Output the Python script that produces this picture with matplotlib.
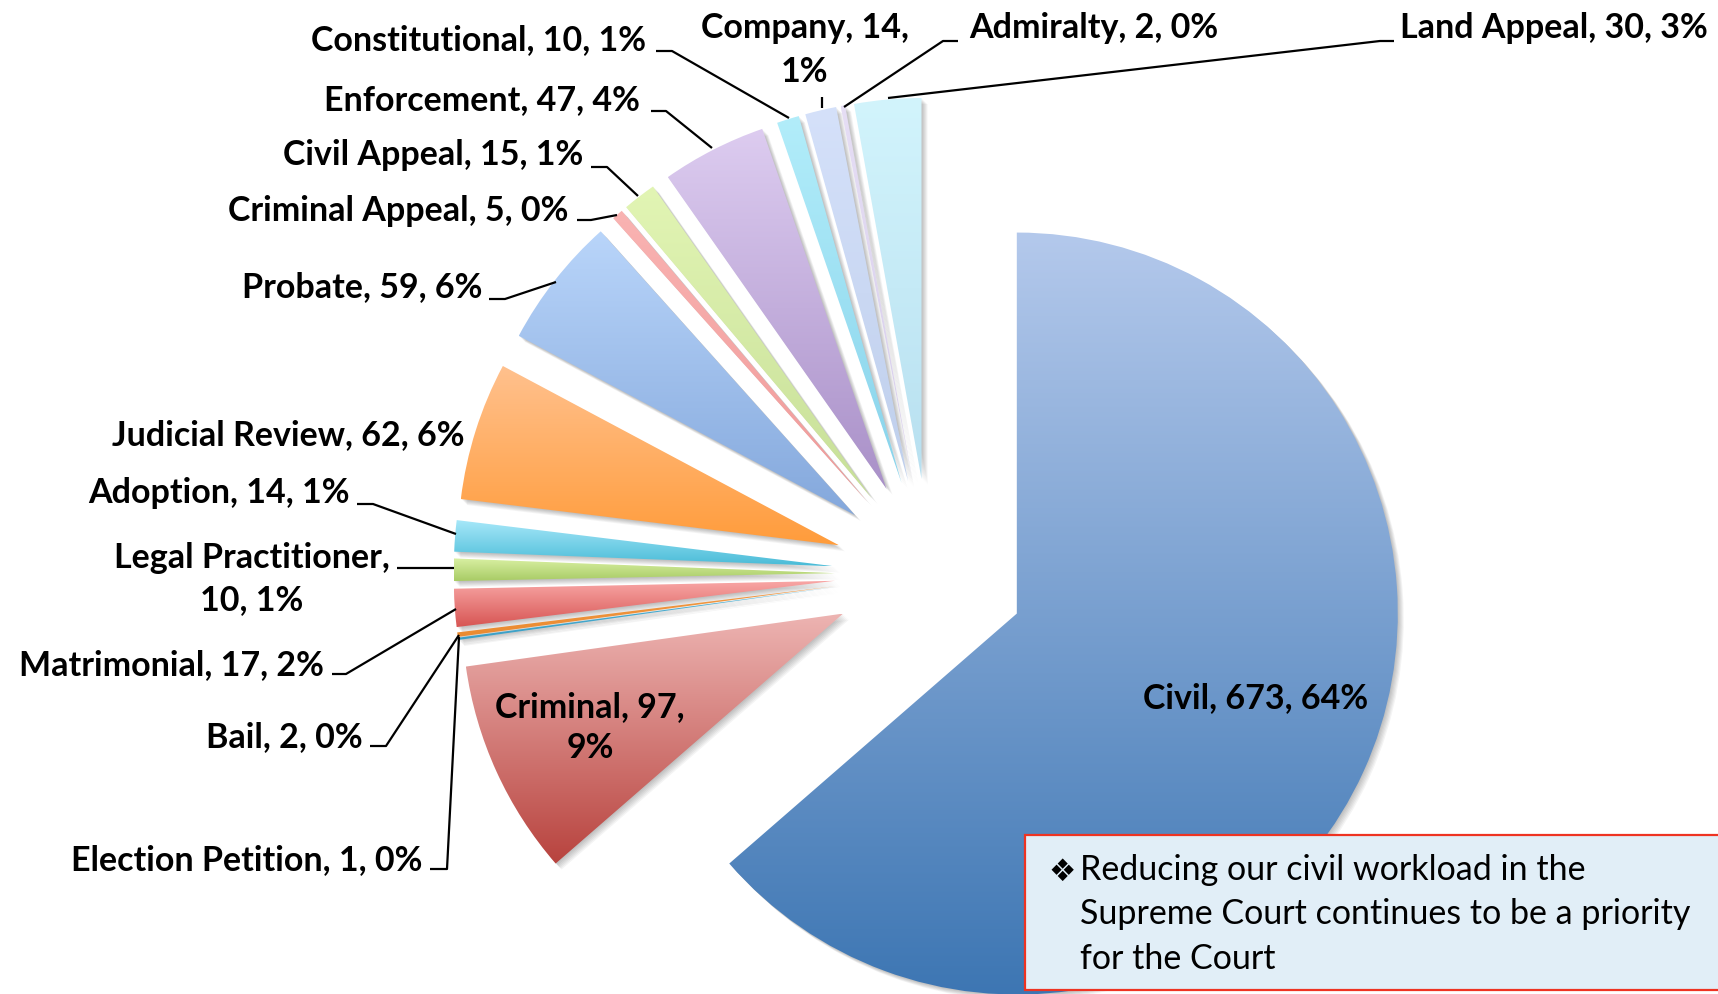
"""
Supreme Court civil workload - exploded pie with Excel-like gradient slices
"""

import numpy as np
import matplotlib
matplotlib.use('Agg')
import matplotlib.pyplot as plt
import matplotlib.colors as mcolors
from matplotlib.patches import Wedge, Rectangle

W, H = 1718, 994

# ---- data (clockwise from 12 o'clock) ----
categories = ['Civil', 'Criminal', 'Election Petition', 'Bail', 'Matrimonial',
              'Legal Practitioner', 'Adoption', 'Judicial Review', 'Probate',
              'Criminal Appeal', 'Civil Appeal', 'Enforcement', 'Constitutional',
              'Company', 'Admiralty', 'Land Appeal']
cases = [673, 97, 1, 2, 17, 10, 14, 62, 59, 5, 15, 47, 10, 14, 2, 30]

top_colors = ['#b4c9ec', '#edb4b2', '#52b4d6', '#f39a44', '#f9a8a7', '#d9f0a3',
              '#a9e9fa', '#ffc18e', '#b9d5fa', '#f9b3b2', '#e2f5b4', '#ddccf0',
              '#b2edfa', '#d5e1fa', '#e6def5', '#d2f4fc']
bottom_colors = ['#3d76b3', '#b8433e', '#3a9fc6', '#ea8a30', '#d75553', '#a8cb65',
                 '#49bbd7', '#ff9c3b', '#84a8dc', '#f09a99', '#c7df98', '#a990c8',
                 '#88d3eb', '#bfcfec', '#d6cdea', '#b8e0f0']

note_text = ["Reducing our civil workload in the",
             "Supreme Court continues to be a priority",
             "for the Court"]

# ---- layout (image pixel coords, y down) ----
pie_center = (930, 574)
pie_radius = 381
explode_dist = 95.4

# name: (x, baseline y, ha, parts on first line, line step)
label_pos = {
    'Civil': (1256, 708, 'center', 3, 0),
    'Criminal': (590, 717, 'center', 2, 41),
    'Election Petition': (422, 870, 'right', 3, 0),
    'Bail': (363, 747, 'right', 3, 0),
    'Matrimonial': (324, 675, 'right', 3, 0),
    'Legal Practitioner': (252, 568, 'center', 1, 42),
    'Adoption': (350, 503, 'right', 3, 0),
    'Judicial Review': (464, 445, 'right', 3, 0),
    'Probate': (482, 297, 'right', 3, 0),
    'Criminal Appeal': (568, 221, 'right', 3, 0),
    'Civil Appeal': (583, 165, 'right', 3, 0),
    'Enforcement': (640, 110, 'right', 3, 0),
    'Constitutional': (646, 50, 'right', 3, 0),
    'Company': (805, 38, 'center', 2, 44),
    'Admiralty': (969, 38, 'left', 3, 0),
    'Land Appeal': (1400, 38, 'left', 3, 0),
}

leaders = {
    'Election Petition': [(430, 869), (447, 869), (459, 637)],
    'Bail': [(370, 746), (386, 746), (459, 635)],
    'Matrimonial': [(332, 674), (346, 674), (456, 609)],
    'Legal Practitioner': [(397, 568), (454, 568)],
    'Adoption': [(357, 504), (373, 504), (456, 534)],
    'Probate': [(489, 299), (505, 299), (556, 282)],
    'Criminal Appeal': [(577, 220), (591, 220), (617, 215)],
    'Civil Appeal': [(591, 167), (607, 167), (638, 196)],
    'Enforcement': [(651, 111), (666, 111), (712, 148)],
    'Constitutional': [(656, 51), (672, 51), (789, 118)],
    'Company': [(822, 97), (822, 108)],
    'Admiralty': [(958, 41), (943, 41), (844, 107)],
    'Land Appeal': [(1394, 41), (1380, 41), (888, 98)],
}

LABEL_FONT = 'Lato'
LABEL_SIZE = 24.5
NOTE_SIZE = 24.5


def flip(y):
    return H - y


def gradient_fill(ax, wedge, c_top, c_bottom, zorder=3):
    """Fill a wedge with a vertical linear gradient (light top, dark bottom)."""
    bb = wedge.get_path().get_extents(wedge.get_patch_transform())
    t = np.linspace(0, 1, 256)[:, None]
    a = np.array(mcolors.to_rgb(c_top))
    b = np.array(mcolors.to_rgb(c_bottom))
    img = (a + (b - a) * t)[:, None, :]
    im = ax.imshow(img, extent=[bb.x0, bb.x1, bb.y0, bb.y1], origin='upper',
                   aspect='auto', interpolation='bilinear', zorder=zorder)
    im.set_clip_path(wedge)


def add_shadow(ax, wedge, zorder=1):
    """Soft grey drop shadow toward the lower right."""
    cx, cy = wedge.center
    for k in range(1, 7):
        sh = Wedge((cx + k, cy - k), wedge.r, wedge.theta1, wedge.theta2,
                   facecolor='black', edgecolor='none', alpha=0.045, zorder=zorder)
        ax.add_patch(sh)


def make_label(name, value, total, first_parts):
    pct = int(100 * value / total + 0.5)
    parts = [name, str(value), f"{pct}%"]
    if first_parts >= 3:
        return [", ".join(parts)]
    return [", ".join(parts[:first_parts]) + ",", ", ".join(parts[first_parts:])]


fig = plt.figure(figsize=(W / 100, H / 100), dpi=100, facecolor='white')
ax = fig.add_axes((0, 0, 1, 1))

total = sum(cases)
wedges, _ = ax.pie(cases, colors=top_colors, startangle=90, counterclock=False,
                   radius=pie_radius, center=(pie_center[0], flip(pie_center[1])),
                   explode=[explode_dist] * len(cases), frame=True)

for w, c0, c1 in zip(wedges, top_colors, bottom_colors):
    add_shadow(ax, w)
    w.set_facecolor('none')
    w.set_edgecolor('none')
    gradient_fill(ax, w, c0, c1)

# leader lines
for name, pts in leaders.items():
    xs = [p[0] for p in pts]
    ys = [flip(p[1]) for p in pts]
    ax.plot(xs, ys, color='black', lw=1.6, solid_capstyle='butt', zorder=5)

# data labels
for name, value in zip(categories, cases):
    x, y, ha, first, step = label_pos[name]
    for i, line in enumerate(make_label(name, value, total, first)):
        ax.text(x, flip(y + i * step), line, ha=ha, va='baseline',
                fontsize=LABEL_SIZE, fontweight='bold', family=LABEL_FONT,
                color='black', zorder=6)

# note box
ax.add_patch(Rectangle((1025, flip(990)), 720, 155, facecolor='#e1eef7',
                       edgecolor='#ee3322', lw=1.6, zorder=7))
ax.text(1048, flip(881), '\u2756', ha='left', va='baseline', fontsize=22,
        family='DejaVu Sans', color='black', zorder=8)
for i, line in enumerate(note_text):
    ax.text(1080, flip(880 + i * 44.5), line, ha='left', va='baseline',
            fontsize=NOTE_SIZE, family=LABEL_FONT, color='black', zorder=8)

ax.set_xlim(0, W)
ax.set_ylim(0, H)
ax.set_aspect('equal')
ax.axis('off')

fig.savefig('out.png', dpi=100, facecolor='white')
plt.close(fig)
